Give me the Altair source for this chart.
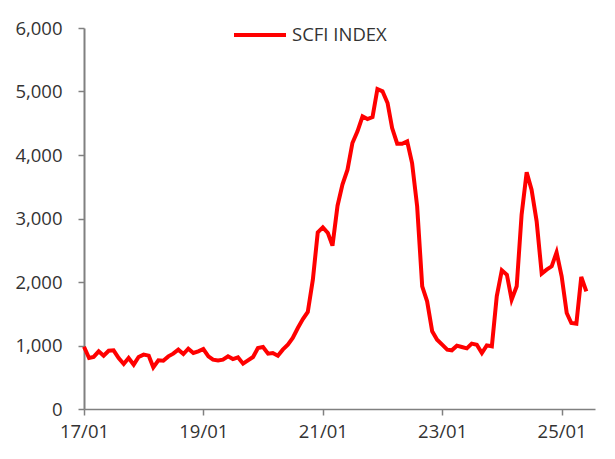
import altair as alt
import pandas as pd

start_month = "2017-01-01"
series_name = "SCFI INDEX"
scfi = [
    980, 803, 820, 908, 840, 918, 924, 803, 709, 803, 698, 819,
    856, 840, 656, 766, 761, 829, 871, 934, 866, 950, 882, 908,
    945, 829, 777, 766, 777, 829, 787, 814, 714, 766, 819, 960,
    976, 871, 882, 840, 934, 1013, 1118, 1276, 1417, 1528, 2037, 2782,
    2861, 2772, 2572, 3202, 3533, 3769, 4189, 4373, 4609, 4567, 4598, 5039,
    5003, 4819, 4425, 4178, 4178, 4215, 3874, 3192, 1932, 1696, 1223, 1092,
    1013, 934, 924, 997, 976, 955, 1029, 1013, 882, 1002, 987, 1774,
    2184, 2115, 1722, 1932, 3060, 3727, 3454, 2955, 2131, 2194, 2247, 2467,
    2089, 1512, 1354, 1344, 2079, 1853,
]
x_tick_years = [2017, 2019, 2021, 2023, 2025]
y_ticks = [0, 1000, 2000, 3000, 4000, 5000, 6000]

dates = pd.date_range(start_month, periods=len(scfi), freq="MS")
df = pd.DataFrame({
    "date": dates.strftime("%Y-%m-%dT00:00:00Z"),
    "value": scfi,
    "series": series_name,
})

FONT = "Open Sans"
FS = 18.5
TXT = "#333333"
AX = "#808080"

chart = alt.Chart(df).mark_line(strokeWidth=4, color="#FF0000").encode(
    x=alt.X(
        "date:T",
        scale=alt.Scale(type="utc",
                        domain=[alt.DateTime(year=2017, month=1, date=1, utc=True),
                                alt.DateTime(year=2025, month=7, date=24, utc=True)]),
        axis=alt.Axis(
            title=None,
            values=[alt.DateTime(year=y, month=1, date=1, utc=True) for y in x_tick_years],
            labelExpr="utcFormat(datum.value, '%y/%m')",
            labelFlush=False,
            labelOverlap=False,
            grid=False,
            domainColor=AX, domainWidth=1.5,
            tickColor=AX, tickSize=6, tickWidth=1.5,
            labelFont=FONT, labelFontSize=FS, labelColor=TXT,
            labelPadding=7,
        ),
    ),
    y=alt.Y(
        "value:Q",
        scale=alt.Scale(domain=[0, 6000], nice=False),
        axis=alt.Axis(
            title=None,
            values=y_ticks,
            format=",.0f",
            labelFlush=False,
            grid=False,
            domainColor=AX, domainWidth=2,
            tickColor=AX, tickSize=6, tickWidth=1.5,
            labelFont=FONT, labelFontSize=FS, labelColor=TXT,
            labelPadding=16,
        ),
    ),
    color=alt.Color(
        "series:N",
        scale=alt.Scale(range=["#FF0000"]),
        legend=alt.Legend(
            title=None,
            orient="none",
            legendX=148,
            legendY=-21,
            symbolType="stroke",
            symbolSize=2704,
            symbolStrokeWidth=4,
            labelFont=FONT,
            labelFontSize=FS,
            labelColor=TXT,
            labelOffset=4,
            padding=0,
        ),
    ),
).properties(
    width=511,
    height=381,
    autosize=alt.AutoSizeParams(type="none"),
    padding={"left": 76, "top": 20, "right": 12, "bottom": 40},
).configure_view(stroke=None)

chart.save("out.html", embed_options={"renderer": "svg", "actions": False})
